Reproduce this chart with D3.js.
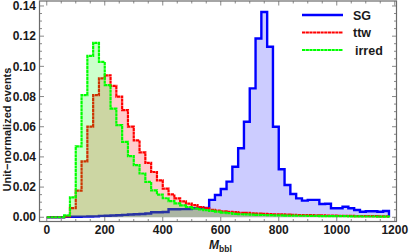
<!DOCTYPE html>
<html>
<head>
<meta charset="utf-8">
<script src="https://cdn.jsdelivr.net/npm/d3@7"></script>
<style>
  body { margin: 0; background: #fff; }
  svg { display: block; font-family: "Liberation Sans", Arial, sans-serif; }
</style>
</head>
<body>
<div id="chart"></div>
<script>
// bin lower edges (GeV), 20 wide, 0 .. 1160
const binWidth = 20;
const binEdges = d3.range(0, 1180, binWidth);

// unit-normalized events per bin
const sgValues = [
  0, 0, 0, 0.0003, 0.0003, 0.0003, 0.0004, 0.0005, 0.0006, 0.0009,
  0.0010, 0.0012, 0.0013, 0.0016, 0.0018, 0.0020, 0.0022, 0.0025, 0.0033, 0.0033,
  0.0035, 0.0053, 0.0053, 0.0054, 0.0055, 0.0060, 0.0060, 0.0062, 0.0115, 0.0148,
  0.0187, 0.0236, 0.0335, 0.0457, 0.0633, 0.0854, 0.1185, 0.1360, 0.1130, 0.0600,
  0.0318, 0.0214, 0.0154, 0.0125, 0.0110, 0.0115, 0.0115, 0.0088, 0.0090, 0.0060,
  0.0060, 0.0070, 0.0060, 0.0048, 0.0037, 0.0040, 0.0040, 0.0037, 0.0042
];
const ttwValues = [
  0, 0, 0, 0.0005, 0.0060, 0.0176, 0.0370, 0.0600, 0.0810, 0.0920,
  0.0940, 0.0870, 0.0800, 0.0710, 0.0600, 0.0510, 0.0430, 0.0360, 0.0300, 0.0245,
  0.0190, 0.0152, 0.0125, 0.0105, 0.0090, 0.0080, 0.0068, 0.0060, 0.0050, 0.0045,
  0.0040, 0.0036, 0.0034, 0.0030, 0.0029, 0.0026, 0.0025, 0.0023, 0.0021, 0.0020,
  0.0019, 0.0017, 0.0016, 0.0015, 0.0014, 0.0014, 0.0013, 0.0012, 0.0011, 0.0011,
  0.0010, 0.0009, 0.0009, 0.0008, 0.0008, 0.0007, 0.0007, 0.0006, 0.0006
];
const irredValues = [
  0, 0, 0, 0.0012, 0.0132, 0.0470, 0.0810, 0.1070, 0.1156, 0.1030,
  0.0876, 0.0720, 0.0610, 0.0500, 0.0405, 0.0346, 0.0290, 0.0235, 0.0178, 0.0150,
  0.0126, 0.0107, 0.0092, 0.0079, 0.0068, 0.0058, 0.0053, 0.0048, 0.0042, 0.0037,
  0.0031, 0.0027, 0.0023, 0.0020, 0.0019, 0.0017, 0.0016, 0.0015, 0.0014, 0.0013,
  0.0012, 0.0011, 0.0011, 0.0010, 0.0010, 0.0009, 0.0009, 0.0008, 0.0008, 0.0007,
  0.0007, 0.0007, 0.0006, 0.0006, 0.0005, 0.0005, 0.0005, 0.0004, 0.0004
];

const seriesNames = ["SG", "ttw", "irred"];
const seriesColors = ["#0000ff", "#ff0000", "#00ff00"];
const xTicks = [0, 200, 400, 600, 800, 1000, 1200];
const yTicks = [0, 0.02, 0.04, 0.06, 0.08, 0.10, 0.12, 0.14];

const width = 409, height = 252;
const plot = {left: 39.5, right: 396.5, top: 1, bottom: 221.5};

const svg = d3.select("#chart").append("svg")
    .attr("width", width)
    .attr("height", height);

const x = d3.scaleLinear().domain([-25, 1206]).range([plot.left, plot.right]);
const y = d3.scaleLinear().domain([-0.0028, 0.1433]).range([plot.bottom, plot.top]);

svg.append("clipPath").attr("id", "clip")
  .append("rect")
    .attr("x", plot.left).attr("y", plot.top)
    .attr("width", plot.right - plot.left).attr("height", plot.bottom - plot.top);

// outline of a histogram: up from zero, along the bins, back down to zero
function stepPoints(values) {
    const pts = [[binEdges[0], 0]];
    values.forEach((v, i) => {
        pts.push([binEdges[i], v]);
        pts.push([binEdges[i] + binWidth, v]);
    });
    pts.push([binEdges[values.length - 1] + binWidth, 0]);
    return pts;
}

const line = d3.line().x(d => x(d[0])).y(d => y(d[1]));
const area = d3.area().x(d => x(d[0])).y0(y(0)).y1(d => y(d[1]));

const g = svg.append("g").attr("clip-path", "url(#clip)");
const allSeries = [sgValues, ttwValues, irredValues];
const dash = "3.2,0.5";

allSeries.forEach((vals, i) => {
    const pts = stepPoints(vals);
    g.append("path")
        .attr("d", area(pts))
        .attr("fill", seriesColors[i])
        .attr("fill-opacity", 0.2);
    g.append("path")
        .attr("d", line(pts))
        .attr("fill", "none")
        .attr("stroke", seriesColors[i])
        .attr("stroke-width", i === 0 ? 2.4 : 2.2)
        .attr("stroke-linejoin", "miter")
        .attr("stroke-dasharray", i === 0 ? null : dash);
});

// frame
const frameColor = "#6b6b6b";
svg.append("rect")
    .attr("x", plot.left).attr("y", plot.top)
    .attr("width", plot.right - plot.left).attr("height", plot.bottom - plot.top)
    .attr("fill", "none")
    .attr("stroke", frameColor)
    .attr("stroke-width", 1.2);

// inward ticks on all four sides
const ticks = svg.append("g").attr("stroke", frameColor).attr("stroke-width", 0.8);
const xMinor = d3.range(0, 1201, 50).filter(v => v % 200 !== 0);
const yMinor = d3.range(0, 0.1426, 0.005).filter(v => Math.abs(v / 0.02 - Math.round(v / 0.02)) > 0.01);

xTicks.forEach(v => {
    ticks.append("line").attr("x1", x(v)).attr("x2", x(v)).attr("y1", plot.bottom).attr("y2", plot.bottom - 4.5);
    ticks.append("line").attr("x1", x(v)).attr("x2", x(v)).attr("y1", plot.top).attr("y2", plot.top + 4.5);
});
xMinor.forEach(v => {
    ticks.append("line").attr("x1", x(v)).attr("x2", x(v)).attr("y1", plot.bottom).attr("y2", plot.bottom - 2.5);
    ticks.append("line").attr("x1", x(v)).attr("x2", x(v)).attr("y1", plot.top).attr("y2", plot.top + 2.5);
});
yTicks.forEach(v => {
    ticks.append("line").attr("x1", plot.left).attr("x2", plot.left + 4.5).attr("y1", y(v)).attr("y2", y(v));
    ticks.append("line").attr("x1", plot.right).attr("x2", plot.right - 4.5).attr("y1", y(v)).attr("y2", y(v));
});
yMinor.forEach(v => {
    ticks.append("line").attr("x1", plot.left).attr("x2", plot.left + 2.5).attr("y1", y(v)).attr("y2", y(v));
    ticks.append("line").attr("x1", plot.right).attr("x2", plot.right - 2.5).attr("y1", y(v)).attr("y2", y(v));
});

// tick labels
svg.append("g").selectAll("text").data(xTicks).enter().append("text")
    .attr("x", d => x(d))
    .attr("y", 233.5)
    .attr("text-anchor", "middle")
    .attr("font-size", 12)
    .attr("font-weight", "bold")
    .attr("fill", "#1a1a1a")
    .text(d => d);

svg.append("g").selectAll("text").data(yTicks).enter().append("text")
    .attr("x", 36)
    .attr("y", d => y(d) + 4.2)
    .attr("text-anchor", "end")
    .attr("font-size", 12)
    .attr("font-weight", "bold")
    .attr("fill", "#1a1a1a")
    .text(d => d.toFixed(2));

// axis titles
svg.append("text")
    .attr("transform", "translate(11,129.5) rotate(-90)")
    .attr("text-anchor", "middle")
    .attr("font-size", 11)
    .attr("font-weight", "bold")
    .attr("fill", "#1a1a1a")
    .text("Unit\u2212normalized events");

const xt = svg.append("text")
    .attr("x", 209)
    .attr("y", 249)
    .attr("font-weight", "bold")
    .attr("fill", "#1a1a1a");
xt.append("tspan").attr("font-size", 12).attr("font-style", "italic").text("M");
xt.append("tspan").attr("font-size", 8.5).attr("dy", 2.5).text("bbl");

// legend
const legend = svg.append("g");
seriesNames.forEach((name, i) => {
    const ly = 15 + i * 17.5;
    legend.append("line")
        .attr("x1", 302).attr("x2", 343)
        .attr("y1", ly).attr("y2", ly)
        .attr("stroke", seriesColors[i])
        .attr("stroke-width", i === 0 ? 2.4 : 2.2)
        .attr("stroke-dasharray", i === 0 ? null : dash);
    legend.append("text")
        .attr("x", i === 2 ? 355 : 353)
        .attr("y", ly + 4.5)
        .attr("font-size", 12.5)
        .attr("font-weight", "bold")
        .attr("fill", "#1a1a1a")
        .text(name);
});
</script>
</body>
</html>
